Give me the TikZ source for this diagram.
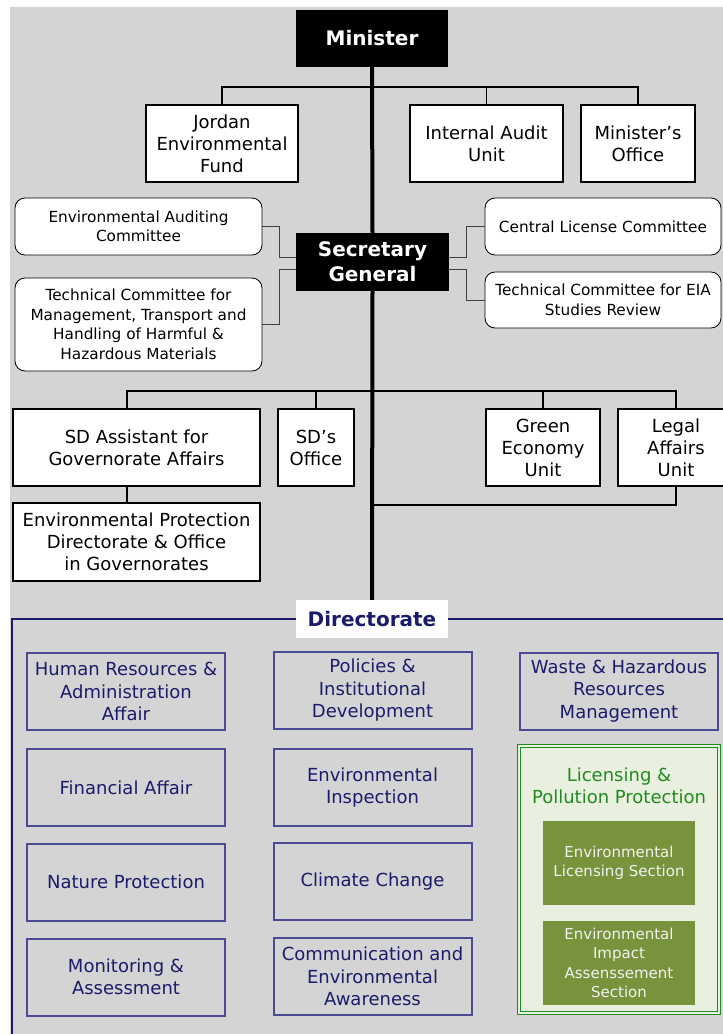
\documentclass[tikz,border=0pt]{standalone}
\usepackage{fontspec}
\setmainfont{DejaVu Sans}
\usetikzlibrary{positioning}
\definecolor{bggray}{HTML}{D4D4D4}
\definecolor{dnavy}{HTML}{1B1B6B}
\definecolor{dline}{HTML}{4A4A94}
\definecolor{lgreen}{HTML}{EAF0E0}
\definecolor{dgreen}{HTML}{1E8C1E}
\definecolor{olive}{HTML}{77933C}
\tikzset{
  head/.style ={fill=black, text=white, align=center, inner sep=2pt,
                font=\fontsize{20}{25}\selectfont\bfseries},
  unit/.style ={draw, line width=1.5pt, fill=white, align=center, inner sep=2pt,
                font=\fontsize{18}{22}\selectfont},
  cmte/.style ={draw, line width=0.8pt, rounded corners=10pt, fill=white,
                align=center, inner sep=2pt, font=\fontsize{15.3}{19.5}\selectfont},
  dept/.style ={draw=dline, line width=2pt, text=dnavy, align=center,
                minimum width=198pt, minimum height=77pt, inner sep=2pt,
                font=\fontsize{18}{22.5}\selectfont},
  lic/.style  ={draw=dgreen, double=lgreen, double distance=1.5pt, line width=0.8pt,
                fill=lgreen, minimum width=200pt, minimum height=267pt},
  sect/.style ={fill=olive, text=white!95!black, align=center, inner sep=2pt,
                minimum width=152pt, minimum height=84pt,
                font=\fontsize{15}{19.5}\selectfont},
  frame/.style={draw=dnavy, line width=1.8pt},
  link/.style ={line width=1.8pt},
  thin/.style ={line width=0.9pt, draw=black!75},
  spine/.style={line width=4pt},
}

\begin{document}
\begin{tikzpicture}[x=1pt, y=-1pt]
  \useasboundingbox (0,0) rectangle (723,1034);
  \fill[bggray] (10,7) rectangle (723,1034);

  % minister level
  \node[head, minimum width=152pt, minimum height=57pt] (minister) at (372,38.5) {Minister};
  \node[unit, minimum width=152pt, minimum height=77pt] (jef) at (222,143.5)
     {Jordan\\ Environmental\\ Fund};
  \node[unit, minimum width=153pt, minimum height=77pt] (iau) at (486.5,143.5)
     {Internal Audit\\ Unit};
  \node[unit, minimum width=114pt, minimum height=77pt] (mo) at (638,143.5)
     {Minister’s\\ Office};

  % secretary general and committees
  \node[head, minimum width=153pt, minimum height=58pt] (sg) at (372.5,262)
     {Secretary\\ General};
  \node[cmte, minimum width=247pt, minimum height=57pt] (eac) at (138.5,226.5)
     {Environmental Auditing\\ Committee};
  \node[cmte, minimum width=247pt, minimum height=93pt] (tcm) at (138.5,324.5)
     {Technical Committee for\\ Management, Transport and\\ Handling of Harmful \&\\ Hazardous Materials};
  \node[cmte, minimum width=236pt, minimum height=57pt] (clc) at (603,226.5)
     {Central License Committee};
  \node[cmte, minimum width=236pt, minimum height=56pt] (eia) at (603,300)
     {Technical Committee for EIA\\ Studies Review};

  % units under SG
  \node[unit, minimum width=247pt, minimum height=77pt] (sda) at (136.5,447.5)
     {SD Assistant for\\ Governorate Affairs};
  \node[unit, minimum width=76pt, minimum height=77pt] (sdo) at (316,447.5)
     {SD’s\\ Office};
  \node[unit, minimum width=114pt, minimum height=77pt] (geu) at (543,447.5)
     {Green\\ Economy\\ Unit};
  \node[unit, minimum width=116pt, minimum height=77pt] (lau) at (676,447.5)
     {Legal\\ Affairs\\ Unit};
  \node[unit, minimum width=247pt, minimum height=78pt] (epd) at (136.5,542)
     {Environmental Protection\\ Directorate \& Office\\ in Governorates};
  \coordinate (lj) at (372,505);

  % directorates
  \draw[frame] (12,619) rectangle (740,1050);
  \node[fill=white, text=dnavy, font=\fontsize{20}{24}\selectfont\bfseries,
        minimum width=152pt, minimum height=38pt] (dirlbl) at (372,619) {Directorate};

  \node[dept] (hr)  at (126,691.5) {Human Resources \&\\ Administration\\ Affair};
  \node[dept] (fin) at (126,787.5) {Financial Affair};
  \node[dept] (np)  at (126,882)   {Nature Protection};
  \node[dept] (ma)  at (126,977)   {Monitoring \&\\ Assessment};
  \node[dept] (pid) at (372.5,690.5) {Policies \&\\ Institutional\\ Development};
  \node[dept] (ei)  at (372.5,787.5) {Environmental\\ Inspection};
  \node[dept] (cc)  at (372.5,881.5) {Climate Change};
  \node[dept] (cea) at (372.5,976.5) {Communication and\\ Environmental\\ Awareness};
  \node[dept] (wh)  at (619,691)   {Waste \& Hazardous\\ Resources\\ Management};

  \node[lic] (lpp) at (619,879.5) {};
  \node[text=dgreen, align=center, font=\fontsize{18}{22}\selectfont] (lpptxt) at (619,786)
     {Licensing \&\\ Pollution Protection};
  \node[sect] (els) at (619,863) {Environmental\\ Licensing Section};
  \node[sect] (eis) at (619,963) {Environmental\\ Impact\\ Assenssement\\ Section};

  % connectors
  \draw[spine] (minister.south) -- (sg.north);
  \draw[spine] (sg.south) -- (dirlbl.north);
  \draw[link] (jef.north) -- ++(0,-17) -| (mo.north);
  \draw[link] (iau.north) -- ++(0,-17);
  \draw[thin] (eac.east) -- ++(17,0) |- ([yshift=5pt]sg.west);
  \draw[thin] (tcm.east) -- ++(17,0) |- ([yshift=-7pt]sg.west);
  \draw[thin] ([yshift=5pt]sg.east) -- ++(17,0) |- (clc.west);
  \draw[thin] ([yshift=-7pt]sg.east) -- ++(17,0) |- (eia.west);
  \draw[link] ([xshift=-9.5pt]sda.north) -- ++(0,-17) -| (lau.north);
  \draw[link] (sdo.north) -- ++(0,-17);
  \draw[link] (geu.north) -- ++(0,-17);
  \draw[link] (lau.south) |- (lj);
  \draw[link] ([xshift=-9.5pt]sda.south) -- ([xshift=-9.5pt]epd.north);
\end{tikzpicture}
\end{document}
